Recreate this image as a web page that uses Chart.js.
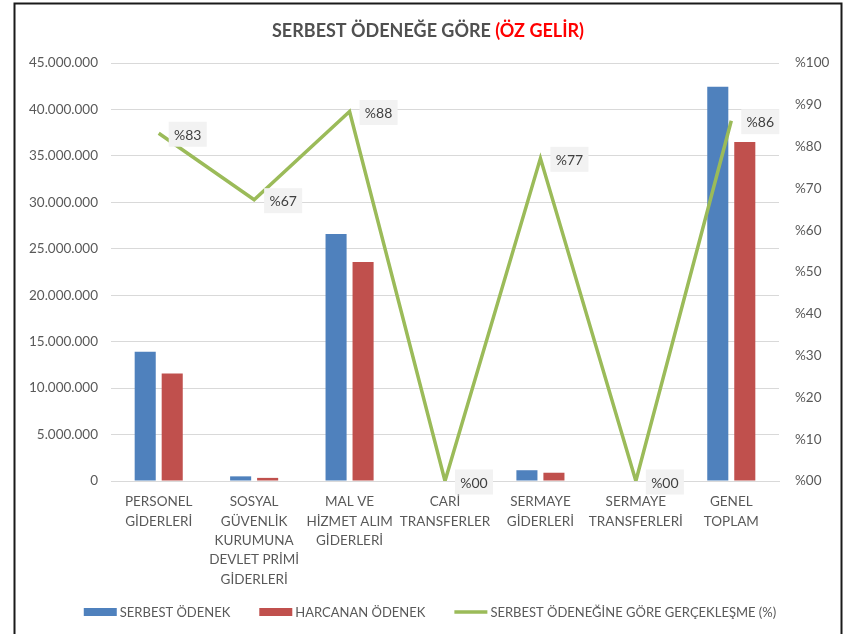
<!DOCTYPE html>
<html>
<head>
<meta charset="utf-8">
<style>
  html, body { margin: 0; padding: 0; background: #ffffff; }
  #wrap { position: relative; width: 843px; height: 634px; }
  canvas { display: block; }
</style>
<script src="https://cdn.jsdelivr.net/npm/chart.js@4/dist/chart.umd.min.js"></script>
</head>
<body>
<div id="wrap"><canvas id="c" width="843" height="634"></canvas></div>
<script>
const titleMain = "SERBEST ÖDENEĞE GÖRE ";
const titleRed = "(ÖZ GELİR)";
const categories = [
  ["PERSONEL", "GİDERLERİ"],
  ["SOSYAL", "GÜVENLİK", "KURUMUNA", "DEVLET PRİMİ", "GİDERLERİ"],
  ["MAL VE", "HİZMET ALIM", "GİDERLERİ"],
  ["CARİ", "TRANSFERLER"],
  ["SERMAYE", "GİDERLERİ"],
  ["SERMAYE", "TRANSFERLERİ"],
  ["GENEL", "TOPLAM"]
];
const serbestOdenek = [13920000, 500000, 26600000, 0, 1160000, 0, 42450000];
const harcananOdenek = [11570000, 335000, 23580000, 0, 890000, 0, 36500000];
const gerceklesme = [83.2, 67.3, 88.4, 0, 77.2, 0, 86.2];
const seriesNames = ["SERBEST ÖDENEK", "HARCANAN ÖDENEK", "SERBEST ÖDENEĞİNE GÖRE GERÇEKLEŞME (%)"];
const leftTicks = [0, 5000000, 10000000, 15000000, 20000000, 25000000, 30000000, 35000000, 40000000, 45000000];
const rightTicks = [0, 10, 20, 30, 40, 50, 60, 70, 80, 90, 100];

const FONT = "Lato, 'Open Sans', sans-serif";
const TXT = "#595959";
const COLORS = ["#4f81bd", "#c0504d", "#9bbb59"];

function fmtThousands(v) {
  return String(Math.round(v)).replace(/\B(?=(\d{3})+(?!\d))/g, ".");
}
function fmtPct(v) {
  const r = Math.round(v);
  return "%" + (r < 10 ? "0" + r : String(r));
}

const framePlugin = {
  id: "frame",
  beforeDraw(chart) {
    const ctx = chart.ctx;
    ctx.save();
    ctx.fillStyle = "#ffffff";
    ctx.fillRect(0, 0, chart.width, chart.height);
    ctx.strokeStyle = "#1a1a1a";
    ctx.lineWidth = 2;
    ctx.beginPath();
    ctx.moveTo(14.5, 634);
    ctx.lineTo(14.5, 3.5);
    ctx.lineTo(841.5, 3.5);
    ctx.lineTo(841.5, 634);
    ctx.stroke();
    ctx.restore();
  },
  afterDraw(chart) {
    const ctx = chart.ctx;
    ctx.save();
    // Title (two colours)
    ctx.font = "bold 18px " + FONT;
    ctx.textBaseline = "alphabetic";
    ctx.textAlign = "left";
    const w1 = ctx.measureText(titleMain).width;
    const w2 = ctx.measureText(titleRed).width;
    const cx = 428;
    let x = cx - (w1 + w2) / 2;
    ctx.fillStyle = "#505050";
    ctx.fillText(titleMain, x, 37);
    ctx.fillStyle = "#ff0000";
    ctx.fillText(titleRed, x + w1, 37);

    // Legend
    ctx.font = "13px " + FONT;
    const markW = 33, gapT = 3, gapItem = 29;
    let total = 0;
    const widths = seriesNames.map(n => ctx.measureText(n).width);
    widths.forEach((w, i) => { total += markW + gapT + w + (i < widths.length - 1 ? gapItem : 0); });
    let lx = 430 - total / 2;
    const ly = 612;
    ctx.textBaseline = "middle";
    seriesNames.forEach((n, i) => {
      ctx.fillStyle = COLORS[i];
      if (i < 2) {
        ctx.fillRect(lx, ly - 4, markW, 8);
      } else {
        ctx.fillRect(lx, ly - 1.75, markW, 3.5);
      }
      ctx.fillStyle = TXT;
      ctx.fillText(n, lx + markW + gapT, ly + 1);
      lx += markW + gapT + widths[i] + gapItem;
    });
    ctx.restore();
  },
  afterDatasetsDraw(chart) {
    const ctx = chart.ctx;
    const meta = chart.getDatasetMeta(2);
    const data = chart.data.datasets[2].data;
    ctx.save();
    ctx.font = "14px " + FONT;
    ctx.textAlign = "center";
    ctx.textBaseline = "middle";
    meta.data.forEach((pt, i) => {
      const label = fmtPct(data[i]);
      const bx = pt.x + 10, by = pt.y + 1 - 12.5;
      const bw = 38, bh = 25;
      ctx.fillStyle = "#f2f2f2";
      ctx.fillRect(bx, by, bw, bh);
      ctx.fillStyle = "#404040";
      ctx.fillText(label, bx + bw / 2, by + bh / 2 + 1);
    });
    ctx.restore();
  }
};

new Chart(document.getElementById("c"), {
  data: {
    labels: categories,
    datasets: [
      { type: "bar", label: seriesNames[0], data: serbestOdenek, backgroundColor: COLORS[0], yAxisID: "y", order: 2,
        categoryPercentage: 0.566, barPercentage: 0.78 },
      { type: "bar", label: seriesNames[1], data: harcananOdenek, backgroundColor: COLORS[1], yAxisID: "y", order: 2,
        categoryPercentage: 0.566, barPercentage: 0.78 },
      { type: "line", label: seriesNames[2], data: gerceklesme, borderColor: COLORS[2], backgroundColor: COLORS[2],
        borderWidth: 3.5, pointRadius: 0, tension: 0, yAxisID: "y1", order: 0, borderCapStyle: "butt", borderJoinStyle: "miter" }
    ]
  },
  options: {
    responsive: false,
    animation: false,
    devicePixelRatio: 1,
    layout: { padding: { top: 63, left: 0, right: 0, bottom: 0 } },
    plugins: { legend: { display: false }, title: { display: false }, tooltip: { enabled: false } },
    scales: {
      x: {
        grid: { display: false, drawTicks: false },
        border: { display: true, color: "#d9d9d9", width: 1 },
        ticks: { color: TXT, font: { family: FONT, size: 13.5, lineHeight: 1.44 }, padding: 11, maxRotation: 0, autoSkip: false },
        afterFit(s) { s.height = 153; }
      },
      y: {
        position: "left",
        min: 0, max: 45000000,
        afterBuildTicks(s) { s.ticks = leftTicks.map(v => ({ value: v })); },
        grid: { color: "#d9d9d9", lineWidth: 1, drawTicks: false },
        border: { display: false },
        ticks: { color: TXT, font: { family: FONT, size: 13.5 }, padding: 13, callback: v => fmtThousands(v) },
        afterFit(s) { s.width = 111; }
      },
      y1: {
        position: "right",
        min: 0, max: 100,
        afterBuildTicks(s) { s.ticks = rightTicks.map(v => ({ value: v })); },
        grid: { display: false, drawTicks: false },
        border: { display: false },
        ticks: { color: TXT, font: { family: FONT, size: 13.5 }, padding: 16, callback: v => fmtPct(v) },
        afterFit(s) { s.width = 64; }
      }
    }
  },
  plugins: [framePlugin]
});
</script>
</body>
</html>
